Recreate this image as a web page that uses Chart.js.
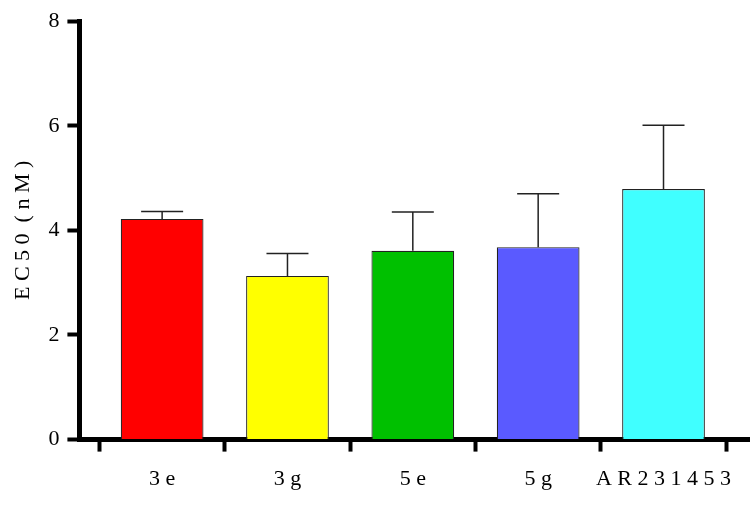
<!DOCTYPE html>
<html><head>
<script src="https://cdn.jsdelivr.net/npm/chart.js@4"></script>
<style>body{margin:0;background:#fff}#wrap{width:750px;height:506px}</style>
</head><body>
<div id="wrap"><canvas id="c"></canvas></div>
<script>
const categories = ['3e', '3g', '5e', '5g', 'AR231453'];
const means = [4.22, 3.13, 3.61, 3.68, 4.79];
const errors = [0.14, 0.43, 0.74, 1.02, 1.22];
const colors = ['#ff0000', '#ffff00', '#00c000', '#5a5aff', '#40ffff'];
const yTicks = [0, 2, 4, 6, 8];

const errorBars = {
    id: 'errorBars',
    afterDatasetsDraw(chart) {
        const ctx = chart.ctx, x = chart.scales.x, y = chart.scales.y;
        ctx.save();
        ctx.strokeStyle = '#222';
        ctx.lineWidth = 1.5;
        means.forEach((m, i) => {
            const px = x.getPixelForValue(i);
            const top = y.getPixelForValue(m + errors[i]);
            ctx.beginPath();
            ctx.moveTo(px, y.getPixelForValue(m));
            ctx.lineTo(px, top);
            ctx.moveTo(px - 21, top);
            ctx.lineTo(px + 21, top);
            ctx.stroke();
        });
        ctx.restore();
    }
};

new Chart(document.getElementById('c'), {
    type: 'bar',
    data: {
        datasets: [{
            data: means.map((v, i) => ({ x: i, y: v })),
            backgroundColor: colors,
            borderColor: '#222',
            borderWidth: 1.2,
            borderSkipped: 'bottom',
            barPercentage: 0.66,
            categoryPercentage: 1
        }]
    },
    options: {
        responsive: true,
        maintainAspectRatio: false,
        animation: false,
        layout: { padding: { top: 8, right: 0, left: 6, bottom: 0 } },
        plugins: { legend: { display: false }, tooltip: { enabled: false } },
        scales: {
            x: {
                type: 'linear',
                offset: false,
                min: -0.66,
                max: 4.69,
                afterBuildTicks: s => { s.ticks = categories.map((c, i) => ({ value: i })); },
                ticks: {
                    callback: (v) => categories[v].split('').join(' '),
                    color: '#000',
                    font: { family: 'Liberation Serif', size: 22 },
                    padding: 14,
                    maxRotation: 0
                },
                grid: { drawOnChartArea: false, tickLength: 12, tickWidth: 4, tickColor: '#000' },
                border: { color: '#000', width: 5 }
            },
            y: {
                min: 0,
                max: 8,
                afterBuildTicks: s => { s.ticks = yTicks.map(v => ({ value: v })); },
                ticks: { color: '#000', font: { family: 'Liberation Serif', size: 22 }, padding: 8 },
                grid: { drawOnChartArea: false, tickLength: 12, tickWidth: 4, tickColor: '#000' },
                border: { color: '#000', width: 5 },
                title: { display: true, text: 'E C 5 0  ( n M )', color: '#000', font: { family: 'Liberation Serif', size: 22 }, padding: 4 }
            }
        }
    },
    plugins: [errorBars]
});
</script>
</body></html>
